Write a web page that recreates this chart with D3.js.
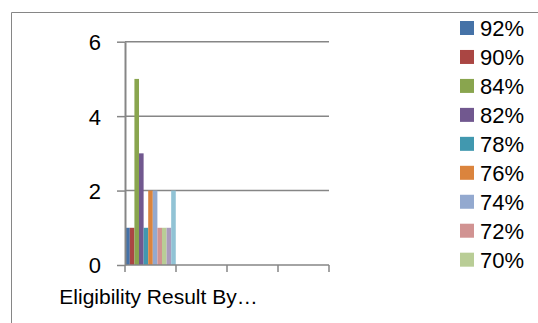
<!DOCTYPE html>
<html>
<head>
<meta charset="utf-8">
<script src="https://cdn.jsdelivr.net/npm/d3@7"></script>
<style>
  html, body { margin: 0; padding: 0; background: #fff; }
  svg { display: block; font-family: "Liberation Sans", Arial, sans-serif; }
</style>
</head>
<body>
<svg id="chart" width="538" height="323"></svg>
<script>
// ---- data ----
const categories = ["Eligibility Result By\u2026", "", "", ""];
const seriesNames = ["92%", "90%", "84%", "82%", "78%", "76%", "74%", "72%", "70%", "68%", "66%"];
// value of each series in the first category (others empty)
const seriesValues = [
  [1, 0, 0, 0],
  [1, 0, 0, 0],
  [5, 0, 0, 0],
  [3, 0, 0, 0],
  [1, 0, 0, 0],
  [2, 0, 0, 0],
  [2, 0, 0, 0],
  [1, 0, 0, 0],
  [1, 0, 0, 0],
  [1, 0, 0, 0],
  [2, 0, 0, 0]
];
const colors = ["#4572A7", "#AA4643", "#89A54E", "#71588F", "#4198AF", "#DB843D",
                "#93A9CF", "#D19392", "#B9CD96", "#A99BBD", "#91C3D5"];
const yTicks = [0, 2, 4, 6];
const legendVisibleCount = 9;

// ---- layout ----
const svg = d3.select("#chart");
const plot = { left: 125, right: 329, top: 41.7, bottom: 265 };
const axisColor = "#868686";

// outer frame (top and left edges visible)
svg.append("path")
  .attr("d", "M11.5,323 L11.5,12.5 L538,12.5")
  .attr("fill", "none").attr("stroke", axisColor).attr("stroke-width", 1);

const x0 = d3.scaleBand().domain(d3.range(categories.length))
  .range([plot.left, plot.right]).paddingInner(0).paddingOuter(0);
const x1 = d3.scaleBand().domain(d3.range(seriesNames.length))
  .range([0, x0.bandwidth()]).paddingOuter(0.05).paddingInner(0);
const y = d3.scaleLinear().domain([0, 6]).range([plot.bottom, plot.top]);

// gridlines
svg.append("g").selectAll("line").data(yTicks.filter(t => t > 0)).join("line")
  .attr("x1", plot.left).attr("x2", plot.right)
  .attr("y1", d => y(d)).attr("y2", d => y(d))
  .attr("stroke", axisColor).attr("stroke-width", 1.5);

// bars
const groups = svg.append("g").selectAll("g").data(seriesNames).join("g")
  .attr("fill", (d, i) => colors[i]);
groups.selectAll("rect")
  .data((d, i) => seriesValues[i].map((v, c) => ({ v, c, s: i })))
  .join("rect")
  .attr("x", d => x0(d.c) + x1(d.s))
  .attr("width", x1.bandwidth())
  .attr("y", d => y(d.v))
  .attr("height", d => y(0) - y(d.v));

// y axis
const yAxis = d3.axisLeft(y).tickValues(yTicks).tickFormat(d3.format("d"))
  .tickSize(8).tickPadding(16).tickSizeOuter(0);
const gy = svg.append("g").attr("transform", `translate(${plot.left},0)`).call(yAxis);
gy.select(".domain").attr("stroke", axisColor).attr("stroke-width", 2);
gy.selectAll(".tick line").attr("stroke", axisColor).attr("stroke-width", 1.5);
gy.selectAll(".tick text").attr("fill", "#000").style("font-size", "22px")
  .attr("dy", "0.36em");

// x axis
const xTickPos = d3.range(categories.length + 1).map(i => plot.left + i * x0.bandwidth());
const gx = svg.append("g");
gx.append("line").attr("x1", plot.left).attr("x2", plot.right)
  .attr("y1", plot.bottom).attr("y2", plot.bottom)
  .attr("stroke", axisColor).attr("stroke-width", 1.5);
gx.selectAll("line.tk").data(xTickPos).join("line").attr("class", "tk")
  .attr("x1", d => d).attr("x2", d => d)
  .attr("y1", plot.bottom).attr("y2", plot.bottom + 7)
  .attr("stroke", axisColor).attr("stroke-width", 1.5);
gx.selectAll("text").data(categories).join("text")
  .attr("x", (d, i) => x0(i) + x0.bandwidth() / 2 + 8)
  .attr("y", plot.bottom + 39)
  .attr("text-anchor", "middle")
  .style("font-size", "21px")
  .attr("fill", "#000")
  .text(d => d);

// legend
const legend = svg.append("g");
const items = legend.selectAll("g").data(seriesNames.slice(0, legendVisibleCount)).join("g")
  .attr("transform", (d, i) => `translate(460,${28 + i * 28.96})`);
items.append("rect").attr("x", 0).attr("y", -7).attr("width", 14).attr("height", 14)
  .attr("fill", (d, i) => colors[i]);
items.append("text").attr("x", 20).attr("y", 0).attr("dy", "0.36em")
  .style("font-size", "22px").attr("fill", "#000").text(d => d);
</script>
</body>
</html>
